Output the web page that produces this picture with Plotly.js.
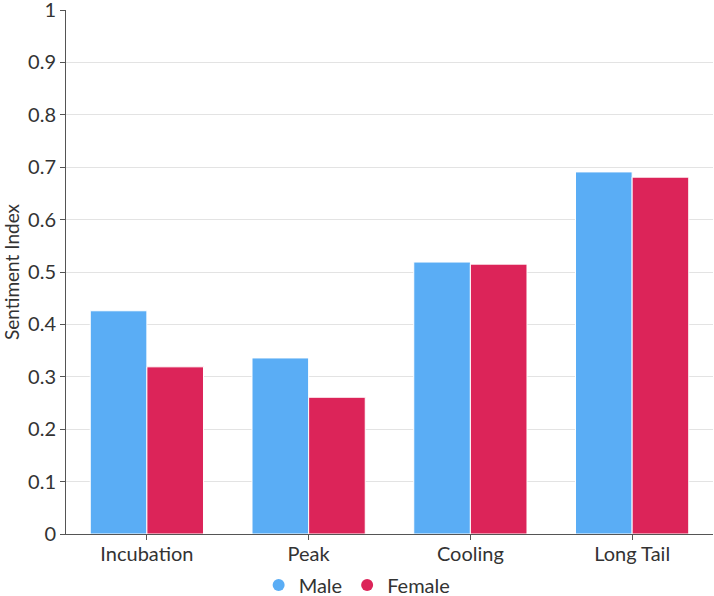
<!DOCTYPE html>
<html>
<head>
<meta charset="utf-8">
<script src="https://cdn.plot.ly/plotly-3.0.1.min.js"></script>
<style>
  html, body { margin: 0; padding: 0; background: #fff; }
  #chart { width: 714px; height: 596px; }
</style>
</head>
<body>
<div id="chart"></div>
<script>
var phases = ['Incubation', 'Peak', 'Cooling', 'Long Tail'];
var male = [0.426, 0.336, 0.519, 0.691];
var female = [0.319, 0.261, 0.515, 0.681];
var seriesNames = ['Male', 'Female'];
var colors = ['#5aadf5', '#dc2459'];
var yTicks = [0, 0.1, 0.2, 0.3, 0.4, 0.5, 0.6, 0.7, 0.8, 0.9, 1];

function drawChart() {
    var values = [male, female];
    var data = [];
    for (let i = 0; i < values.length; i++) {
        data.push({
            x: phases,
            y: values[i],
            name: seriesNames[i],
            type: 'bar',
            marker: { color: colors[i], line: { color: '#ffffff', width: 1 } },
            showlegend: false,
            hoverinfo: 'x+y+name'
        });
    }
    // circle swatches for the legend
    for (let i = 0; i < seriesNames.length; i++) {
        data.push({
            x: [null],
            y: [null],
            name: seriesNames[i],
            type: 'scatter',
            mode: 'markers',
            marker: { color: colors[i], size: 17, symbol: 'circle' }
        });
    }

    var layout = {
        width: 714,
        height: 596,
        margin: { l: 66, r: 1, t: 10, b: 62, autoexpand: false },
        paper_bgcolor: '#ffffff',
        plot_bgcolor: '#ffffff',
        font: { family: 'Lato, "Noto Sans", sans-serif', size: 20, color: '#333333' },
        barmode: 'group',
        bargap: 0.3,
        bargroupgap: 0,
        xaxis: {
            type: 'category',
            showline: true,
            linecolor: '#555555',
            linewidth: 1,
            ticks: 'outside',
            ticklen: 5,
            tickcolor: '#555555',
            showgrid: false,
            automargin: false,
            ticklabelstandoff: -3,
            tickfont: { size: 20, color: '#333333' }
        },
        yaxis: {
            range: [0, 1],
            tickmode: 'array',
            tickvals: yTicks,
            ticktext: yTicks.map(String),
            showline: true,
            linecolor: '#555555',
            linewidth: 1,
            ticks: 'outside',
            ticklen: 5,
            tickcolor: '#555555',
            gridcolor: '#e3e3e3',
            gridwidth: 1,
            zeroline: false,
            automargin: false,
            ticklabeloverflow: 'allow',
            tickfont: { size: 20, color: '#333333' },
            title: { text: 'Sentiment Index', font: { size: 19, color: '#333333' }, standoff: 5 }
        },
        legend: {
            orientation: 'h',
            x: 0.45,
            xanchor: 'center',
            y: -0.06,
            yanchor: 'top',
            font: { size: 20, color: '#333333' },
            itemsizing: 'constant'
        }
    };

    Plotly.newPlot('chart', data, layout, { displayModeBar: false });
}

drawChart();
</script>
</body>
</html>
